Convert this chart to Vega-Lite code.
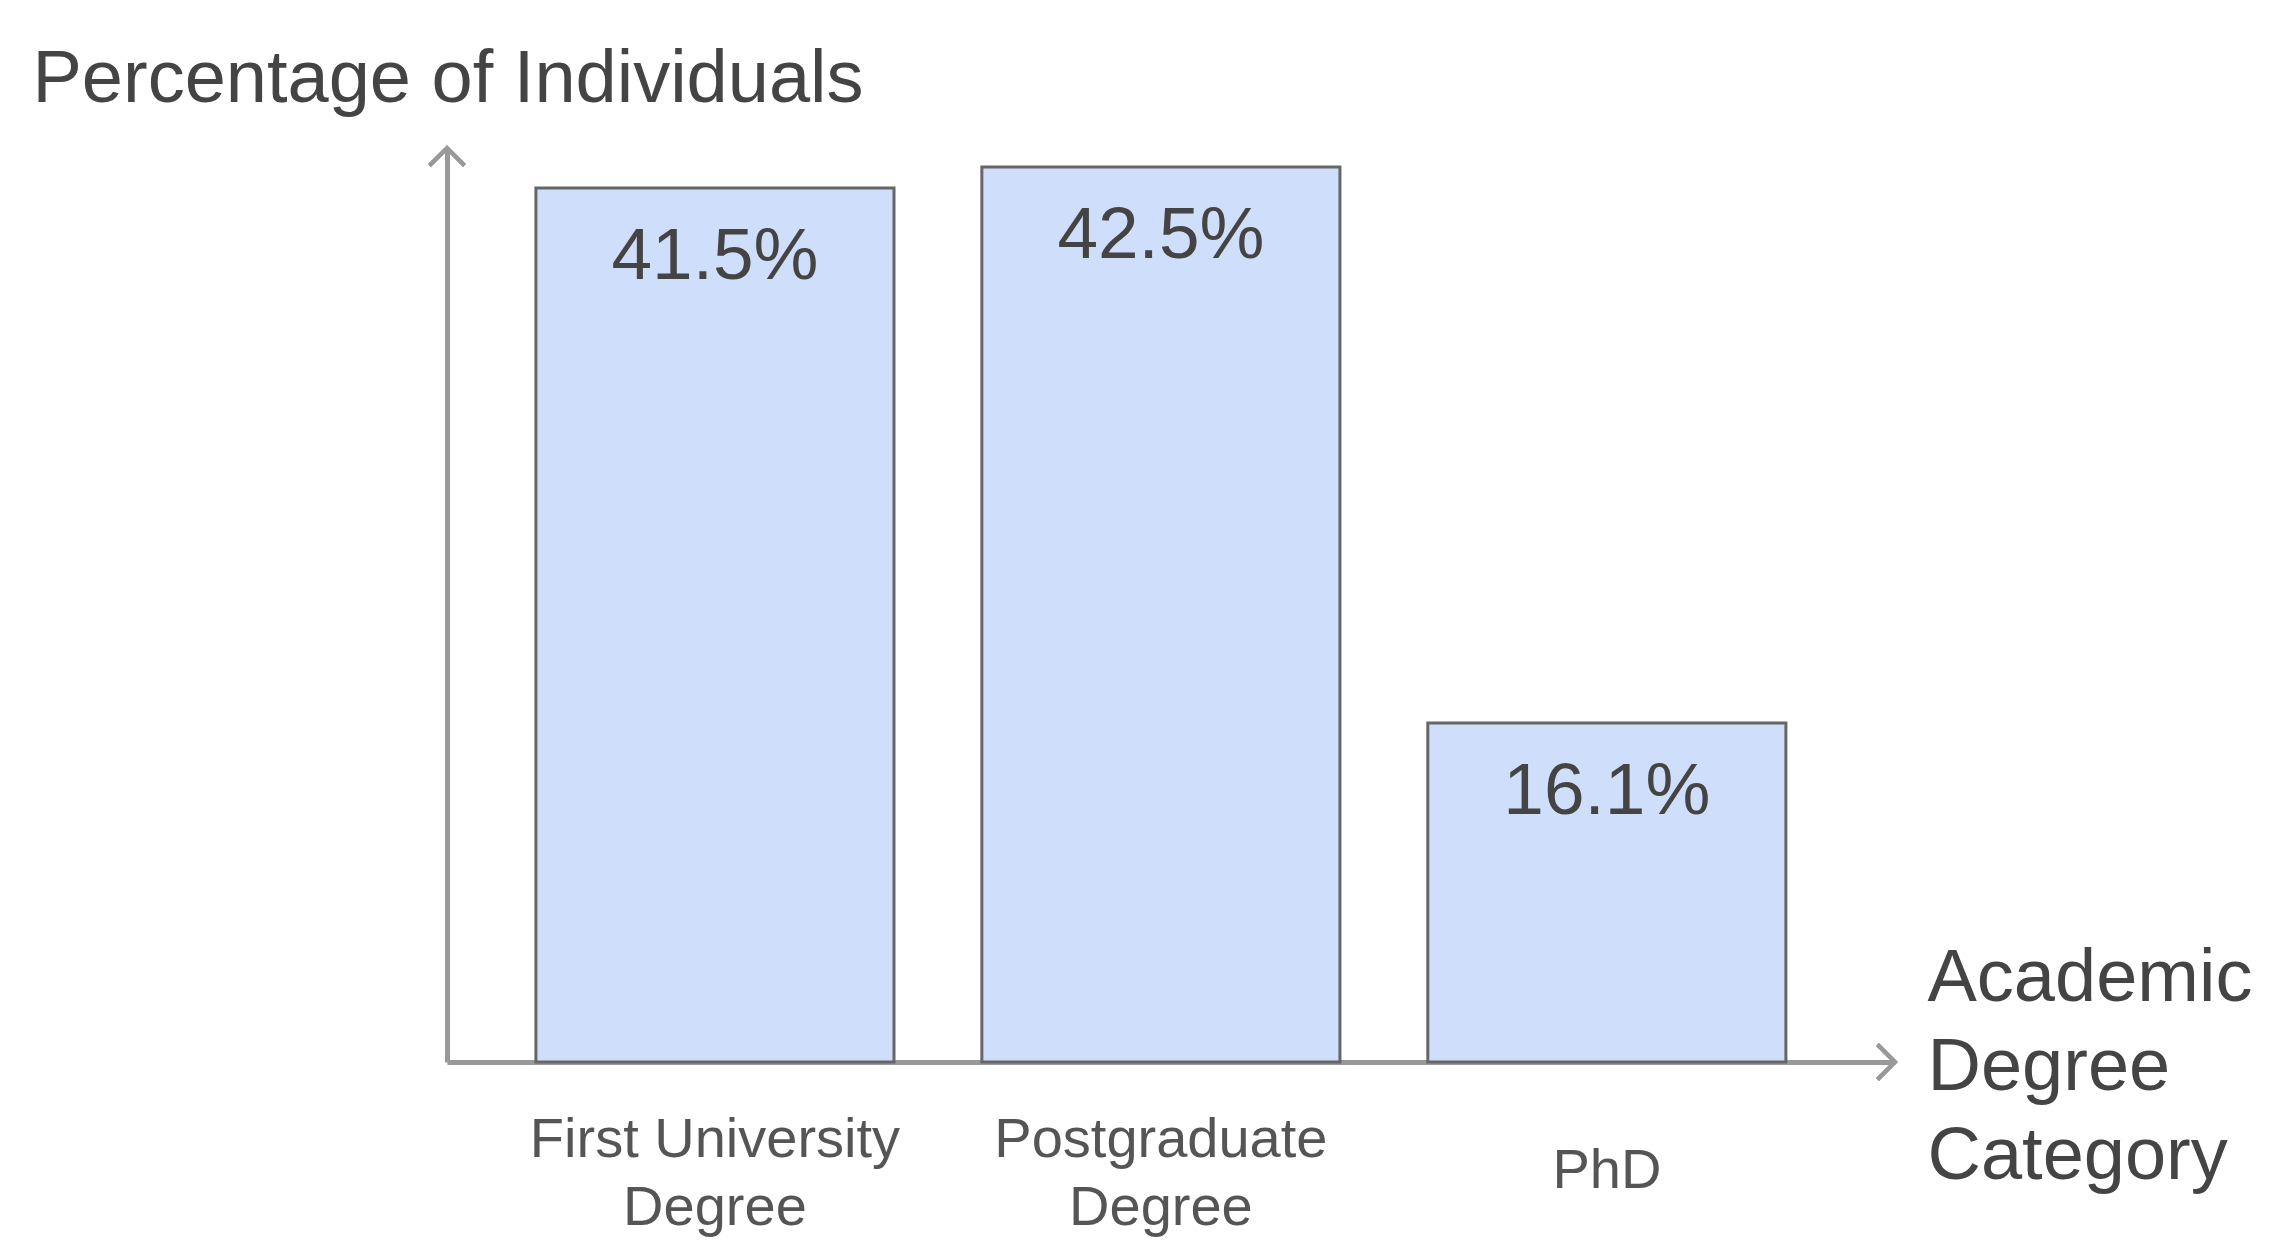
{
  "$schema": "https://vega.github.io/schema/vega-lite/v6.json",
  "autosize": "none",
  "width": 1448,
  "height": 914,
  "padding": {"left": 447, "top": 148, "right": 377, "bottom": 198},
  "background": "white",
  "config": {"view": {"stroke": null}, "font": "Liberation Sans"},
  "data": {"values": [
    {"category": "First University Degree", "pct": 41.5, "label": "41.5%"},
    {"category": "Postgraduate Degree", "pct": 42.5, "label": "42.5%"},
    {"category": "PhD", "pct": 16.1, "label": "16.1%"}
  ]},
  "resolve": {"scale": {"x": "independent"}},
  "layer": [
    {
      "encoding": {
        "x": {
          "field": "category", "type": "nominal", "sort": null,
          "scale": {"paddingInner": 0.197, "paddingOuter": 0.222, "align": 0.449},
          "axis": {
            "title": ["Academic", "Degree", "Category"],
            "titleFontSize": 74, "titleFont": "Liberation Sans", "titleColor": "#444444", "titleFontWeight": "normal",
            "titleAlign": "left", "titleX": 1480, "titleY": -62, "titleBaseline": "alphabetic", "titleLineHeight": 89, "titleAngle": 0,
            "domain": true, "domainColor": "#999999", "domainWidth": 5,
            "ticks": false, "tickSize": 0, "grid": false,
            "labelAngle": 0, "labelFontSize": 56, "labelColor": "#555555",
            "labelPadding": {"condition": {"test": "datum.label == 'PhD'", "value": 108}, "value": 77},
            "labelBaseline": "middle", "labelLineHeight": 68, "labelLimit": 0, "labelOverlap": false,
            "labelExpr": "datum.label == 'First University Degree' ? ['First University', 'Degree'] : datum.label == 'Postgraduate Degree' ? ['Postgraduate', 'Degree'] : datum.label"
          }
        },
        "y": {
          "field": "pct", "type": "quantitative",
          "scale": {"domain": [0, 43.4], "nice": false, "zero": true},
          "axis": {
            "title": "Percentage of Individuals",
            "titleFontSize": 74, "titleColor": "#444444", "titleFontWeight": "normal",
            "titleAngle": 0, "titleAlign": "left", "titleBaseline": "alphabetic", "titleX": -415, "titleY": -47,
            "domain": true, "domainColor": "#999999", "domainWidth": 5,
            "labels": false, "ticks": false, "grid": false
          }
        }
      },
      "layer": [
        {"mark": {"type": "bar", "fill": "#cfdffb", "stroke": "#666666", "strokeWidth": 3}},
        {
          "mark": {"type": "text", "fontSize": 73, "color": "#444444", "baseline": "alphabetic", "align": "center", "dy": 91},
          "encoding": {"text": {"field": "label", "type": "nominal"}}
        }
      ]
    },
    {
      "mark": {"type": "point", "shape": "M-1,1L0,0L1,1", "filled": false, "stroke": "#999999", "strokeWidth": 4, "size": 1225, "opacity": 1},
      "encoding": {
        "x": {"datum": 0, "type": "quantitative", "scale": {"domain": [0, 1], "nice": false}, "axis": null},
        "y": {"datum": 43.4, "type": "quantitative"}
      }
    },
    {
      "mark": {"type": "point", "shape": "M-1,-1L0,0L-1,1", "filled": false, "stroke": "#999999", "strokeWidth": 4, "size": 1225, "opacity": 1},
      "encoding": {
        "x": {"datum": 1, "type": "quantitative", "scale": {"domain": [0, 1], "nice": false}, "axis": null},
        "y": {"datum": 0, "type": "quantitative"}
      }
    }
  ]
}
